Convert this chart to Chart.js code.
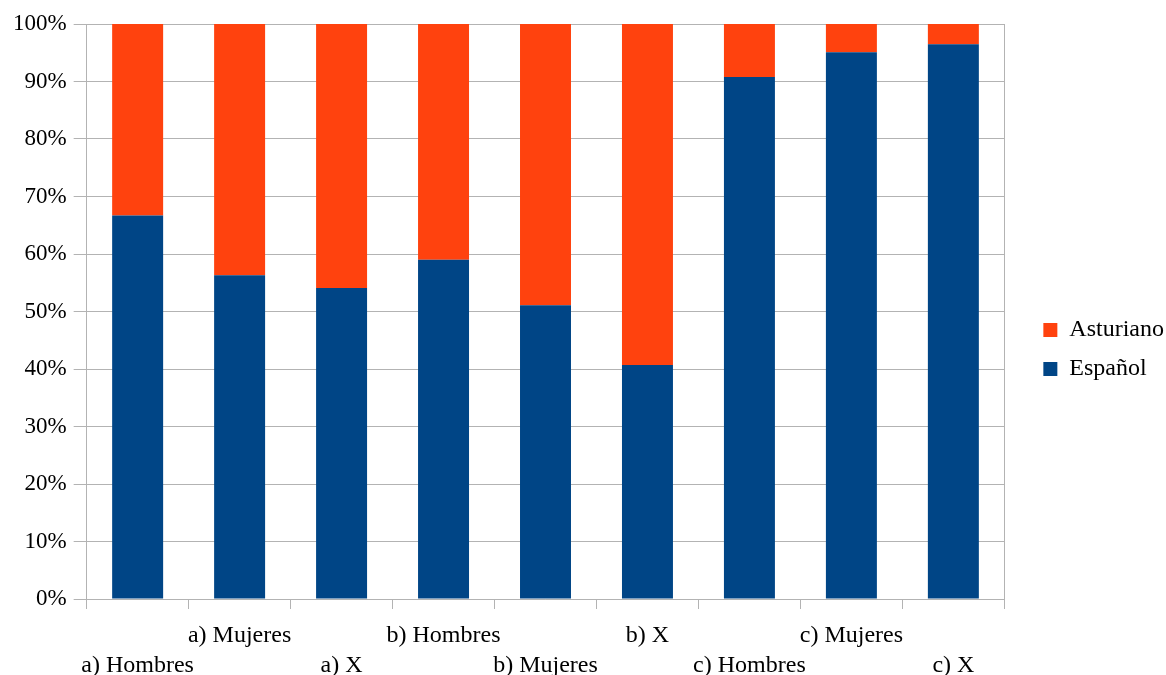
<!DOCTYPE html>
<html>
<head>
<meta charset="utf-8">
<script src="https://cdn.jsdelivr.net/npm/chart.js@4.4.1/dist/chart.umd.min.js"></script>
<style>
  html, body { margin: 0; padding: 0; background: #fff; }
  #wrap { width: 1166px; height: 675px; }
</style>
</head>
<body>
<div id="wrap"><canvas id="chart" width="1166" height="675"></canvas></div>
<script>
const categories = ['a) Hombres', 'a) Mujeres', 'a) X', 'b) Hombres', 'b) Mujeres', 'b) X', 'c) Hombres', 'c) Mujeres', 'c) X'];
const espanol = [66.7, 56.3, 54.1, 59.0, 51.1, 40.7, 90.8, 95.1, 96.5];
const asturiano = [33.3, 43.7, 45.9, 41.0, 48.9, 59.3, 9.2, 4.9, 3.5];
const yTicks = [0, 10, 20, 30, 40, 50, 60, 70, 80, 90, 100];

const gridGrey = '#b3b3b3';
const serif = '"Liberation Serif", "DejaVu Serif", serif';

new Chart(document.getElementById('chart').getContext('2d'), {
    type: 'bar',
    data: {
        labels: categories,
        datasets: [
            { label: 'Español', data: espanol, backgroundColor: '#004586', barPercentage: 0.5, categoryPercentage: 1 },
            { label: 'Asturiano', data: asturiano, backgroundColor: '#ff420e', barPercentage: 0.5, categoryPercentage: 1 }
        ]
    },
    options: {
        responsive: false,
        animation: false,
        layout: { padding: { left: 6, top: 24, right: -8, bottom: 0 } },
        plugins: {
            tooltip: { enabled: false },
            legend: {
                position: 'right',
                reverse: true,
                labels: { font: { family: serif, size: 24 }, color: '#000', boxWidth: 14, boxHeight: 14, padding: 15 }
            }
        },
        scales: {
            x: {
                stacked: true,
                afterFit: axis => { axis.height = 76; },
                grid: { offset: true, drawOnChartArea: false, drawTicks: true, tickLength: 10, color: gridGrey },
                border: { color: gridGrey },
                ticks: {
                    autoSkip: false, maxRotation: 0, minRotation: 0, padding: 12,
                    color: '#000', font: { family: serif, size: 24, lineHeight: 1.25 },
                    callback: (v, i) => i % 2 === 0 ? ['', categories[i]] : categories[i]
                }
            },
            y: {
                stacked: true, min: 0, max: 100,
                afterBuildTicks: axis => { axis.ticks = yTicks.map(v => ({ value: v })); },
                grid: { color: gridGrey, tickLength: 13 },
                border: { color: gridGrey },
                ticks: { color: '#000', font: { family: serif, size: 23, lineHeight: 1.3 }, padding: 7, callback: v => v + '%' }
            },
            y2: {
                position: 'right', min: 0, max: 100,
                afterFit: axis => { axis.width = 24; },
                grid: { drawOnChartArea: false, drawTicks: false },
                border: { color: gridGrey },
                ticks: { display: false }
            }
        }
    }
});
</script>
</body>
</html>
